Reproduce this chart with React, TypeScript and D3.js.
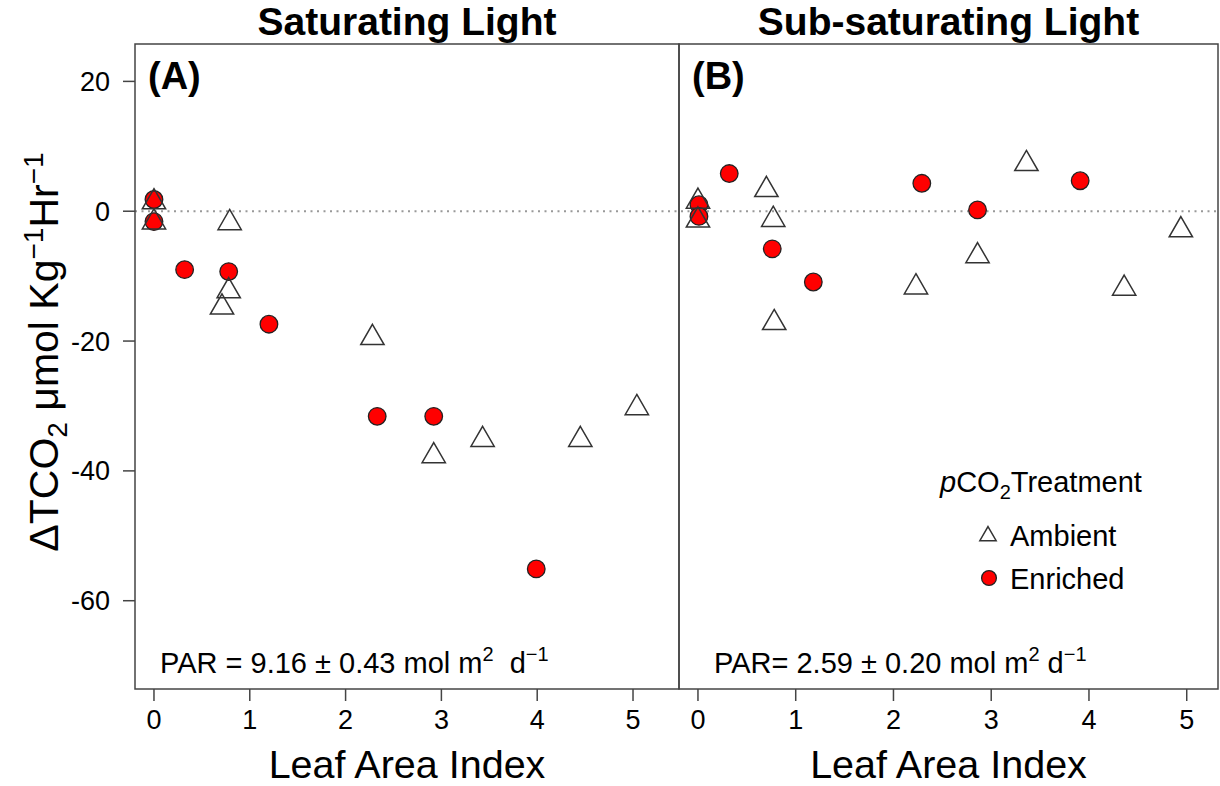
import React from "react";
import * as d3 from "d3";

// ---- data ----
const panelTitles = ["Saturating Light", "Sub-saturating Light"];
const panelLetters = ["(A)", "(B)"];
const xTicks = [0, 1, 2, 3, 4, 5];
const yTicks = [20, 0, -20, -40, -60];

const satAmbientLAI = [0, 0, 0.79, 0.78, 0.71, 2.28, 2.92, 3.43, 4.45, 5.04];
const satAmbientVal = [1.4, -1.7, -1.8, -12.3, -14.8, -19.5, -37.7, -35.2, -35.2, -30.3];
const satEnrichedLAI = [0, 0, 0.32, 0.78, 1.2, 2.33, 2.92, 3.99];
const satEnrichedVal = [1.8, -1.6, -9.0, -9.3, -17.4, -31.6, -31.6, -55.1];

const subAmbientLAI = [0, 0, 0.7, 0.77, 0.78, 2.23, 2.86, 3.36, 4.36, 4.94];
const subAmbientVal = [1.5, -1.4, 3.3, -1.3, -17.2, -11.7, -6.9, 7.3, -11.9, -2.9];
const subEnrichedLAI = [0.01, 0.01, 0.32, 0.76, 1.18, 2.29, 2.86, 3.91];
const subEnrichedVal = [1.0, -0.8, 5.8, -5.8, -10.9, 4.3, 0.2, 4.7];

const parA = { main: "PAR = 9.16 ± 0.43 mol m", sup1: "2", mid: "\u00A0\u00A0d", sup2: "−1" };
const parB = { main: "PAR= 2.59 ± 0.20 mol m", sup1: "2", mid: "\u00A0d", sup2: "−1" };

const FONT = "'Liberation Sans', Arial, Helvetica, sans-serif";
const AX = "#444";

const yScale = d3.scaleLinear().domain([-73.6, 25.76]).range([689, 44]);
const xScaleA = d3.scaleLinear().domain([-0.198, 5.48]).range([135, 679]);
const xScaleB = d3.scaleLinear().domain([-0.194, 5.32]).range([679, 1218]);

const triPath = d3.symbol(d3.symbolTriangle, 235)() as string;
const triLegend = d3.symbol(d3.symbolTriangle, 115)() as string;

type PanelProps = {
  x: d3.ScaleLinear<number, number>;
  title: string;
  letter: string;
  ambLAI: number[];
  ambVal: number[];
  enrLAI: number[];
  enrVal: number[];
  par: { main: string; sup1: string; mid: string; sup2: string };
  parX: number;
};

function Panel(p: PanelProps) {
  const [x0, x1] = p.x.range();
  const cx = (x0 + x1) / 2;
  return (
    <g>
      <text x={cx} y={35} textAnchor="middle" fontSize={39} fontWeight="bold" fontFamily={FONT}>
        {p.title}
      </text>
      <text x={x0 + 13} y={89} fontSize={38} fontWeight="bold" fontFamily={FONT}>
        {p.letter}
      </text>
      {p.enrLAI.map((l, i) => (
        <circle key={"e" + i} cx={p.x(l)} cy={yScale(p.enrVal[i])} r={8.8} fill="#ff0000" stroke="#222" strokeWidth={1.3} />
      ))}
      {p.ambLAI.map((l, i) => (
        <path
          key={"a" + i}
          d={triPath}
          transform={`translate(${p.x(l)},${yScale(p.ambVal[i])})`}
          fill="none"
          stroke="#333"
          strokeWidth={1.5}
        />
      ))}
      {xTicks.map((t) => (
        <g key={t}>
          <line x1={p.x(t)} x2={p.x(t)} y1={689} y2={701} stroke={AX} strokeWidth={1.5} />
          <text x={p.x(t)} y={729} textAnchor="middle" fontSize={27} fontFamily={FONT}>
            {t}
          </text>
        </g>
      ))}
      <text x={cx} y={778} textAnchor="middle" fontSize={39.5} fontFamily={FONT}>
        Leaf Area Index
      </text>
      <text x={p.parX} y={673} fontSize={29} fontFamily={FONT}>
        {p.par.main}
        <tspan fontSize={20} dy={-12}>{p.par.sup1}</tspan>
        <tspan dy={12}>{p.par.mid}</tspan>
        <tspan fontSize={20} dy={-12}>{p.par.sup2}</tspan>
      </text>
    </g>
  );
}

export default function App() {
  return (
    <svg
      width={1220}
      height={786}
      style={{ position: "absolute", left: 0, top: 0, background: "#fff" }}
      fontFamily={FONT}
    >
      <rect x={0} y={0} width={1220} height={786} fill="#fff" />
      <line x1={135} x2={1218} y1={yScale(0)} y2={yScale(0)} stroke="#999" strokeWidth={2} strokeDasharray="2,4.5" />
      <Panel
        x={xScaleA}
        title={panelTitles[0]}
        letter={panelLetters[0]}
        ambLAI={satAmbientLAI}
        ambVal={satAmbientVal}
        enrLAI={satEnrichedLAI}
        enrVal={satEnrichedVal}
        par={parA}
        parX={160}
      />
      <Panel
        x={xScaleB}
        title={panelTitles[1]}
        letter={panelLetters[1]}
        ambLAI={subAmbientLAI}
        ambVal={subAmbientVal}
        enrLAI={subEnrichedLAI}
        enrVal={subEnrichedVal}
        par={parB}
        parX={714}
      />
      <rect x={135} y={44} width={544} height={645} fill="none" stroke={AX} strokeWidth={1.5} />
      <rect x={679} y={44} width={539} height={645} fill="none" stroke={AX} strokeWidth={1.5} />
      {yTicks.map((t) => (
        <g key={t}>
          <line x1={123} x2={135} y1={yScale(t)} y2={yScale(t)} stroke={AX} strokeWidth={1.5} />
          <text x={110} y={yScale(t)} dy="0.35em" textAnchor="end" fontSize={27} fontFamily={FONT}>
            {t}
          </text>
        </g>
      ))}
      <text transform="translate(58,352) rotate(-90)" textAnchor="middle" fontSize={41} fontFamily={FONT}>
        ΔTCO<tspan fontSize={28} dy={9}>2</tspan>
        <tspan dy={-9}> μmol Kg</tspan>
        <tspan fontSize={28} dy={-15}>−1</tspan>
        <tspan dy={15}>Hr</tspan>
        <tspan fontSize={28} dy={-15}>−1</tspan>
      </text>
      <text x={940} y={492} fontSize={29} fontFamily={FONT}>
        <tspan fontStyle="italic">p</tspan>CO<tspan fontSize={20} dy={7}>2</tspan>
        <tspan dy={-7}>Treatment</tspan>
      </text>
      <path d={triLegend} transform="translate(988,536)" fill="none" stroke="#333" strokeWidth={1.5} />
      <text x={1010} y={546} fontSize={29} fontFamily={FONT}>Ambient</text>
      <circle cx={989} cy={578} r={7.4} fill="#ff0000" stroke="#222" strokeWidth={1.3} />
      <text x={1010} y={589} fontSize={29} fontFamily={FONT}>Enriched</text>
    </svg>
  );
}
